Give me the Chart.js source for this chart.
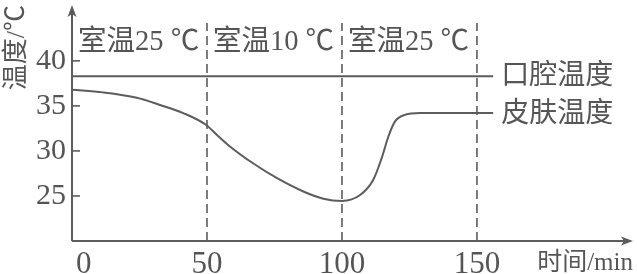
<!DOCTYPE html>
<html><head><meta charset="utf-8">
<script src="https://cdn.jsdelivr.net/npm/chart.js@4"></script>
<style>html,body{margin:0;padding:0;background:#fff}canvas{display:block}</style>
</head><body><canvas id="c" width="637" height="274"></canvas>
<script>
// ---- data ----
const skinTime = [0, 11.5, 24, 32.6, 41.2, 49.6, 53.6, 58.5, 67.2, 75.8, 85.7, 93.1, 100, 106.7, 111.6, 114.7, 117.2, 119.6, 123.3, 128.9, 150, 156];
const skinTemp = [36.8, 36.5, 35.9, 35.1, 34.2, 32.9, 31.8, 30.5, 28.6, 27.0, 25.5, 24.7, 24.45, 25.1, 26.8, 29.2, 31.6, 33.25, 34.0, 34.2, 34.2, 34.2];
const oralTime = [0, 156];
const oralTemp = [38.3, 38.3];
const boundaries = [50, 100, 150];
const phaseStarts = [0, 50, 100];
const phaseLabels = ['室温25 ℃', '室温10 ℃', '室温25 ℃'];
const seriesNames = ['口腔温度', '皮肤温度'];
const xTicks = [0, 50, 100, 150];
const yTicks = [25, 30, 35, 40];
const xTitle = '时间/min';
const yTitle = '温度/℃';

const INK = '#5c5c5c';
const TXT = '#555';
const SERIF = '"Liberation Serif", "Noto Sans CJK SC", serif';
const Y_MIN = 20, Y_MAX = 46.2, X_MAX = 207.8, DASH_TOP = 44.2;

const toXY = (xs, ys) => xs.map((x, i) => ({x, y: ys[i]}));

const datasets = [
  {label: seriesNames[0], data: toXY(oralTime, oralTemp), borderColor: INK, borderWidth: 2, pointRadius: 0, tension: 0},
  {label: seriesNames[1], data: toXY(skinTime, skinTemp), borderColor: INK, borderWidth: 2, pointRadius: 0, cubicInterpolationMode: 'monotone'}
];
boundaries.forEach(b => datasets.push({
  label: 'b' + b, data: [{x: b, y: Y_MIN}, {x: b, y: DASH_TOP}],
  borderColor: INK, borderWidth: 1.6, borderDash: [9, 5], pointRadius: 0
}));

const deco = {
  id: 'deco',
  afterDraw(chart) {
    const {ctx, chartArea: ca, scales: {x, y}} = chart;
    ctx.save();
    ctx.strokeStyle = INK; ctx.fillStyle = INK; ctx.lineWidth = 2;
    const x0 = x.getPixelForValue(0), yb = y.getPixelForValue(Y_MIN);
    // axes
    ctx.beginPath(); ctx.moveTo(x0, yb); ctx.lineTo(x0, ca.top + 6); ctx.stroke();
    ctx.beginPath(); ctx.moveTo(x0, yb); ctx.lineTo(ca.right - 6, yb); ctx.stroke();
    // arrows
    ctx.beginPath(); ctx.moveTo(x0, ca.top); ctx.lineTo(x0 - 4.5, ca.top + 12); ctx.lineTo(x0, ca.top + 9); ctx.lineTo(x0 + 4.5, ca.top + 12); ctx.closePath(); ctx.fill();
    ctx.beginPath(); ctx.moveTo(ca.right, yb); ctx.lineTo(ca.right - 12, yb - 4.5); ctx.lineTo(ca.right - 9, yb); ctx.lineTo(ca.right - 12, yb + 4.5); ctx.closePath(); ctx.fill();
    // inward y ticks
    ctx.lineWidth = 1.6;
    yTicks.forEach(v => { const py = y.getPixelForValue(v); ctx.beginPath(); ctx.moveTo(x0, py); ctx.lineTo(x0 + 8, py); ctx.stroke(); });
    // texts
    ctx.fillStyle = TXT; ctx.textBaseline = 'alphabetic'; ctx.textAlign = 'left';
    ctx.font = '28.5px ' + SERIF;
    phaseStarts.forEach((s, i) => ctx.fillText(phaseLabels[i], x.getPixelForValue(s) + 6, 50));
    ctx.font = '28px ' + SERIF;
    const endX = x.getPixelForValue(oralTime[oralTime.length - 1]);
    ctx.fillText(seriesNames[0], endX + 8, y.getPixelForValue(oralTemp[0]) + 8);
    ctx.fillText(seriesNames[1], endX + 8, y.getPixelForValue(skinTemp[skinTemp.length - 1]) + 9);
    ctx.font = '25px ' + SERIF;
    ctx.textAlign = 'right';
    ctx.fillText(xTitle, ca.right, 270);
    ctx.restore();
  }
};

new Chart(document.getElementById('c'), {
  type: 'line',
  data: {datasets},
  plugins: [deco],
  options: {
    responsive: false, animation: false,
    layout: {padding: {top: 5, right: 4, left: 0, bottom: 0}},
    plugins: {legend: {display: false}, tooltip: {enabled: false}},
    scales: {
      x: {
        type: 'linear', min: 0, max: X_MAX,
        grid: {display: false, drawTicks: false}, border: {display: false},
        afterBuildTicks: s => { s.ticks = xTicks.map(v => ({value: v})); },
        afterFit: s => { s.height = 33; s.paddingLeft = 0; s.paddingRight = 0; },
        ticks: {color: TXT, font: {family: SERIF, size: 31}, padding: 5, maxRotation: 0,
          callback: v => v === 0 ? '\u00a0\u00a0\u00a00' : String(v)}
      },
      y: {
        min: Y_MIN, max: Y_MAX,
        grid: {display: false, drawTicks: false}, border: {display: false},
        afterBuildTicks: s => { s.ticks = yTicks.map(v => ({value: v})); },
        afterFit: s => { s.width = 72; s.paddingTop = 0; s.paddingBottom = 0; },
        ticks: {color: TXT, font: {family: SERIF, size: 30}, padding: 6},
        title: {display: true, text: yTitle, align: 'end', color: TXT, font: {family: SERIF, size: 26}, padding: {top: 2, bottom: 0}}
      }
    }
  }
});
</script></body></html>
